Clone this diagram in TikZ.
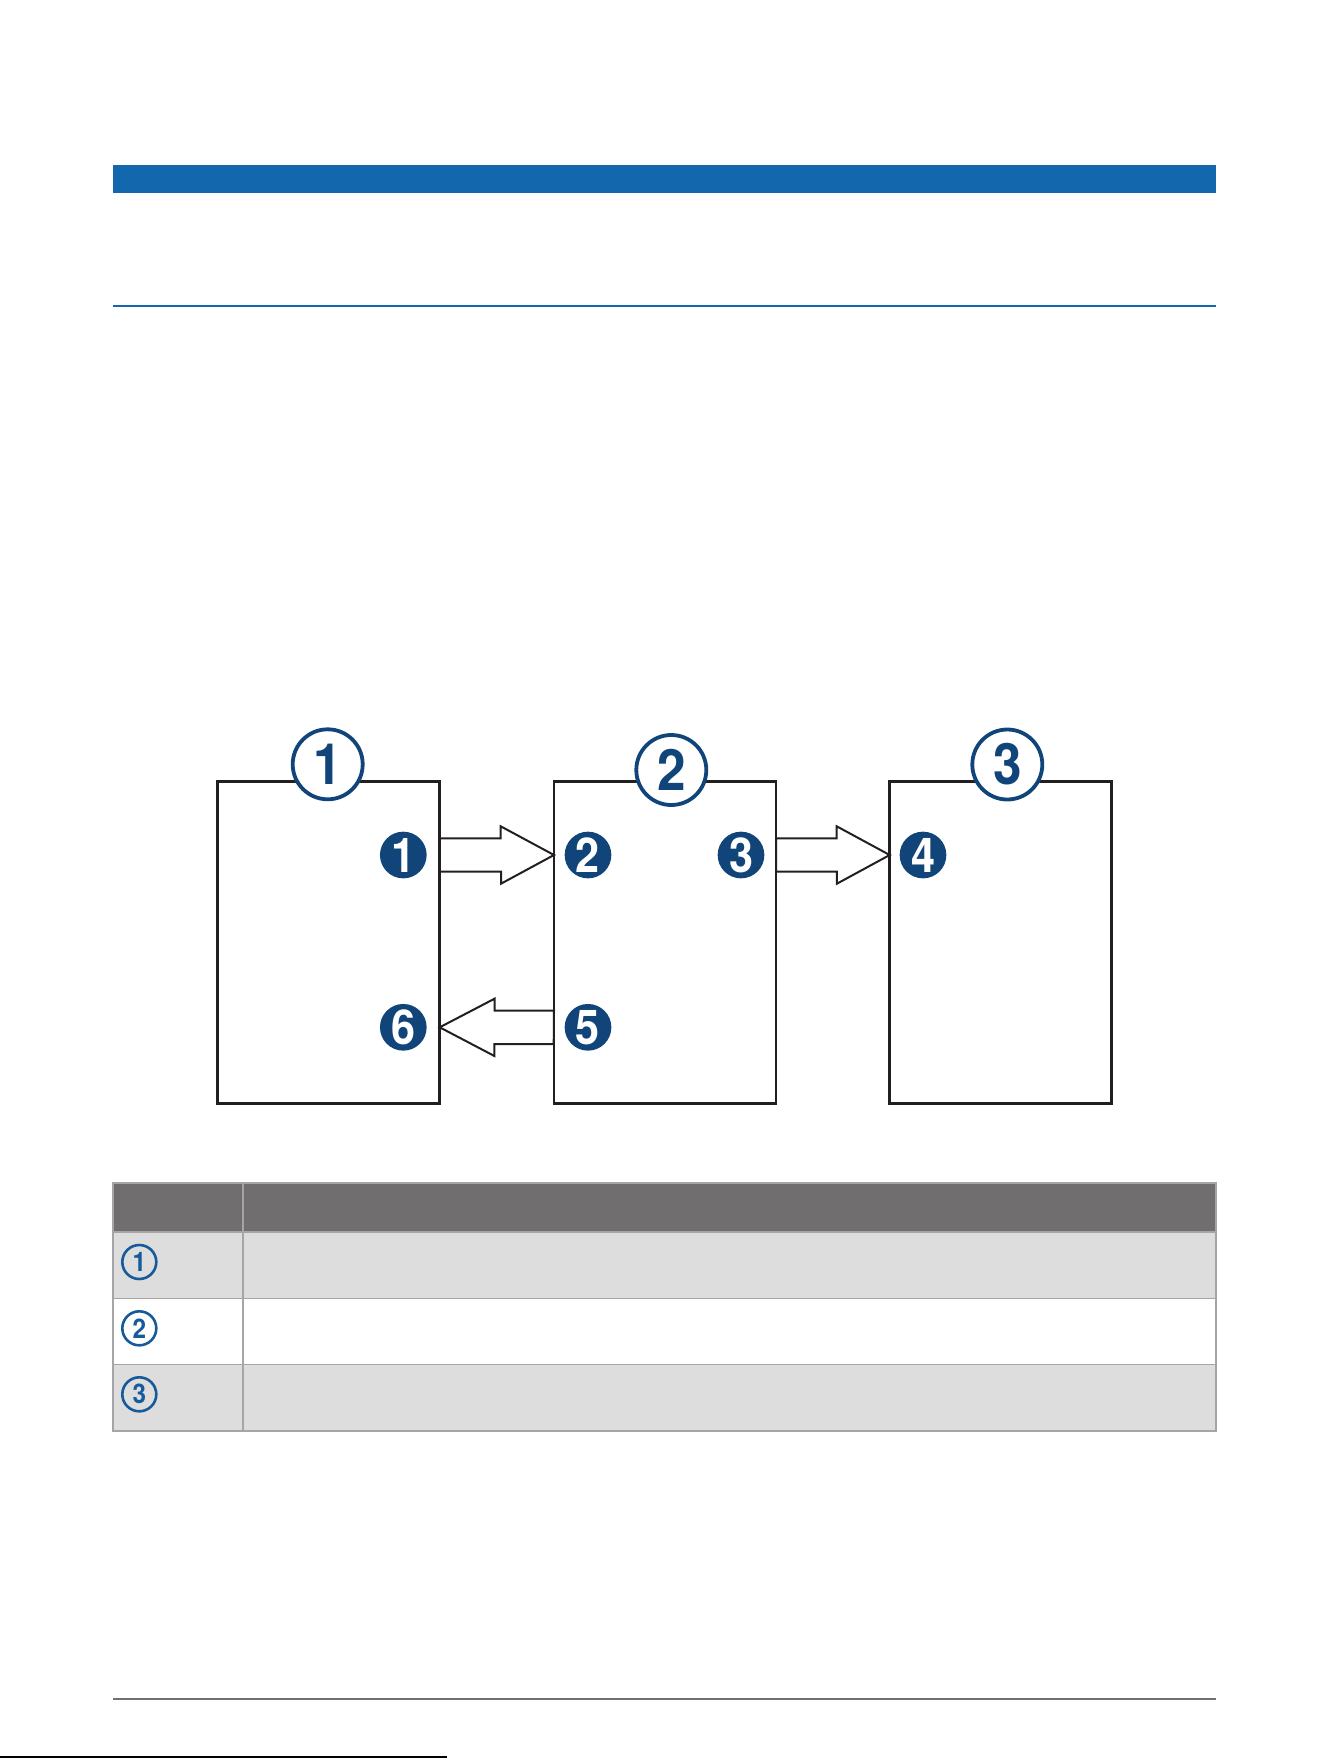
\documentclass[tikz,border=0pt]{standalone}
\usepackage{fontspec}
\usepackage{graphicx}
\usetikzlibrary{backgrounds}
\setmainfont{TeX Gyre Heros}
\definecolor{barblue}{RGB}{19,103,173}
\definecolor{cblue}{RGB}{17,69,122}
\definecolor{tblue}{RGB}{22,90,155}
\definecolor{boxline}{RGB}{35,31,32}
\definecolor{hdrgray}{RGB}{112,110,111}
\definecolor{rowgray}{RGB}{221,221,221}
\definecolor{gridgray}{RGB}{165,165,165}
\definecolor{rulegray}{RGB}{112,112,112}
\newcommand{\cdig}[1]{\scalebox{0.9}[1]{#1}}
\begin{document}
\begin{tikzpicture}[x=1pt,y=-1pt,
  panel/.style={draw=boxline,line width=2.8pt,minimum width=222pt,minimum height=322pt,inner sep=0pt,outer sep=0pt},
  bigcirc/.style={circle,draw=cblue,line width=3.8pt,fill=white,minimum size=70pt,inner sep=0pt,text=cblue,font=\fontsize{57}{57}\selectfont\bfseries},
  numdot/.style={circle,fill=cblue,minimum size=46.7pt,inner sep=0pt,text=white,font=\fontsize{48}{48}\selectfont\bfseries},
  tabcirc/.style={circle,draw=tblue,line width=2.6pt,minimum size=34pt,inner sep=0pt,text=tblue,font=\fontsize{27}{27}\selectfont\bfseries},
  blk/.style={draw=boxline,line width=2pt,fill=white,line join=miter}
]
\path[use as bounding box] (0,0) rectangle (1330,1758);

% header band and rule
\fill[barblue] (113,165) rectangle (1216,193);
\draw[barblue,line width=1.3pt] (113,306) -- (1216,306);

% panels
\node[panel] (b1) at (328.7,942.6) {};
\node[panel] (b2) at (665,942.6) {};
\node[panel] (b3) at (1000.7,942.6) {};

% filled markers
\node[numdot] (f1) at (403.3,855) {\cdig{1}};
\node[numdot] (f2) at (588,855) {\cdig{2}};
\node[numdot] (f3) at (741,855) {\cdig{3}};
\node[numdot] (f4) at (923,855) {\cdig{4}};
\node[numdot] (f5) at (588,1027.3) {\cdig{5}};
\node[numdot] (f6) at (403.3,1027.3) {\cdig{6}};

% block arrows (behind the panel frames)
\begin{scope}[on background layer]
\draw[blk] (b1.east |- f1) ++(0,-16.7) -- ++(61,0) -- ++(0,-12) -- (b2.west |- f1)
  -- ++(-53,28.7) -- ++(0,-12) -- ++(-61,0) -- cycle;
\draw[blk] (b2.east |- f3) ++(0,-16.7) -- ++(60.7,0) -- ++(0,-12) -- (b3.west |- f4)
  -- ++(-52.8,28.7) -- ++(0,-12) -- ++(-60.7,0) -- cycle;
\draw[blk] (b2.west |- f5) ++(0,-16.7) -- ++(-59.3,0) -- ++(0,-12) -- (b1.east |- f6)
  -- ++(54.7,28.7) -- ++(0,-12) -- ++(59.3,0) -- cycle;
\end{scope}

% big circled numbers
\node[bigcirc] (c1) at (327.7,764.3) {\cdig{1}};
\node[bigcirc] (c2) at (671.3,770) {\cdig{2}};
\node[bigcirc] (c3) at (1007.3,764.5) {\cdig{3}};

% table
\fill[hdrgray] (113,1183) rectangle (1216,1232);
\fill[rowgray] (113,1232) rectangle (1216,1298.5);
\fill[rowgray] (113,1364.5) rectangle (1216,1431);
\draw[gridgray,line width=1.5pt] (113,1183) rectangle (1216,1431);
\foreach \yy in {1232,1298.5,1364.5}{\draw[gridgray,line width=1.5pt] (113,\yy) -- (1216,\yy);}
\draw[gridgray,line width=1.5pt] (243,1183) -- (243,1431);
\node[tabcirc] (t1) at (139.3,1262) {\cdig{1}};
\node[tabcirc] (t2) at (139.3,1328.3) {\cdig{2}};
\node[tabcirc] (t3) at (139.3,1394.3) {\cdig{3}};

% footer rule
\draw[rulegray,line width=2pt] (113,1699.3) -- (1215.5,1699.3);
\draw[black,line width=1.5pt] (0,1757.2) -- (447,1757.2);
\end{tikzpicture}
\end{document}
